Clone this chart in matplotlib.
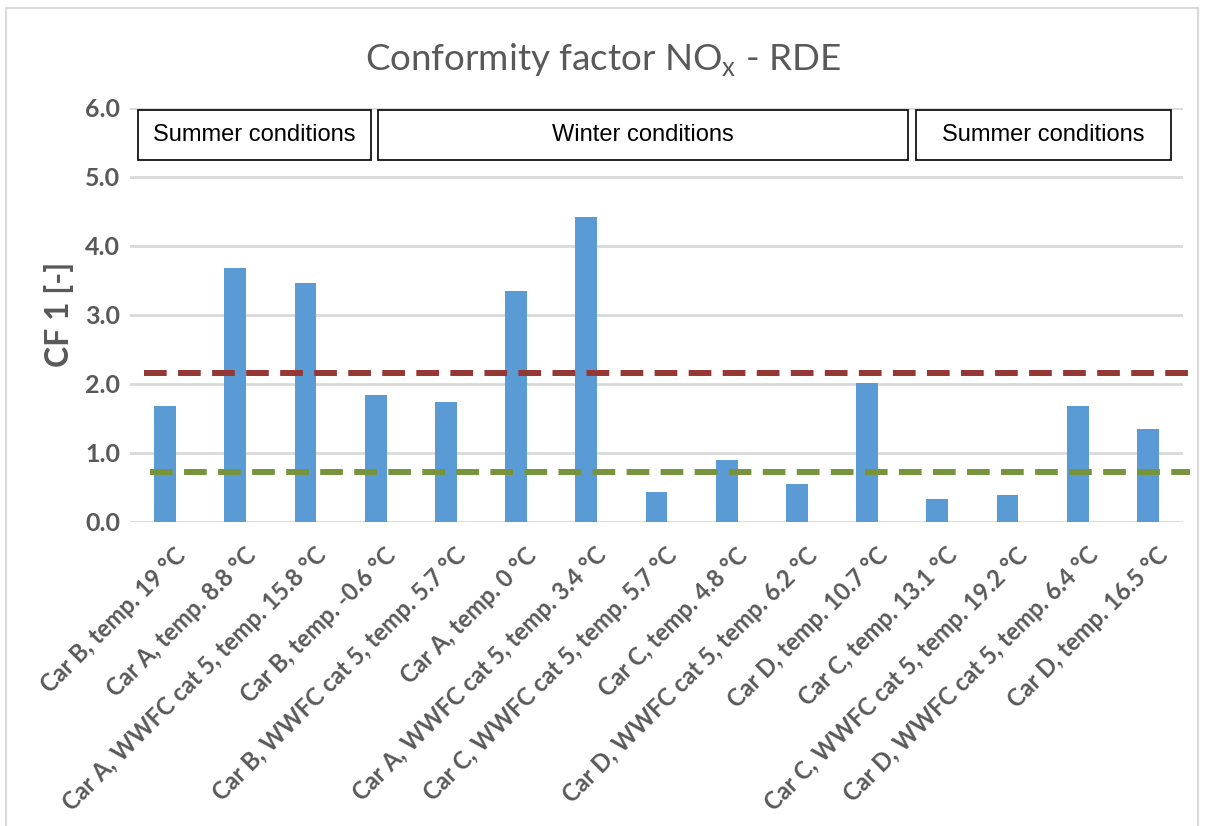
import matplotlib
matplotlib.use("Agg")
import matplotlib.pyplot as plt
from matplotlib.patches import Rectangle

categories = [
    "Car B, temp. 19 °C",
    "Car A, temp. 8.8 °C",
    "Car A, WWFC cat 5, temp. 15.8 °C",
    "Car B, temp. -0.6 °C",
    "Car B, WWFC cat 5, temp. 5.7 °C",
    "Car A, temp. 0 °C",
    "Car A, WWFC cat 5, temp. 3.4 °C",
    "Car C, WWFC cat 5, temp. 5.7 °C",
    "Car C, temp. 4.8 °C",
    "Car D, WWFC cat 5, temp. 6.2 °C",
    "Car D, temp. 10.7 °C",
    "Car C, temp. 13.1 °C",
    "Car C, WWFC cat 5, temp. 19.2 °C",
    "Car D, WWFC cat 5, temp. 6.4 °C",
    "Car D, temp. 16.5 °C",
]
cf_values = [1.67, 3.67, 3.46, 1.84, 1.74, 3.34, 4.42, 0.43, 0.90, 0.54, 2.01, 0.33, 0.39, 1.67, 1.34]
red_limit = 2.15
green_limit = 0.72
yticks = [0.0, 1.0, 2.0, 3.0, 4.0, 5.0, 6.0]
season_labels = ["Summer conditions", "Winter conditions", "Summer conditions"]

GRAY = "#595959"
plt.rcParams["font.family"] = ["Lato", "DejaVu Sans"]
plt.rcParams["mathtext.fontset"] = "custom"
plt.rcParams["mathtext.rm"] = "Lato"

fig = plt.figure(figsize=(12.06, 8.26), dpi=100)
ax = fig.add_axes([130 / 1206, 304.3 / 826, 1053 / 1206, 414 / 826])

x = list(range(len(categories)))
ax.bar(x, cf_values, width=0.31, color="#5B9BD5", zorder=3)

ax.plot([-0.3, 14.6], [red_limit, red_limit], color="#953735", lw=4.3,
        dashes=(3.8, 1.9), zorder=4, clip_on=False, solid_capstyle="butt")
ax.plot([-0.22, 14.6], [green_limit, green_limit], color="#77933C", lw=4.3,
        dashes=(3.8, 1.9), zorder=4, clip_on=False, solid_capstyle="butt")

ax.set_xlim(-0.5, len(categories) - 0.5)
ax.set_ylim(0, 6)
ax.set_yticks(yticks)
ax.set_yticklabels([f"{v:.1f}" for v in yticks], fontsize=18, fontweight="bold", color=GRAY)
ax.grid(axis="y", color="#D9D9D9", lw=2, zorder=0)
ax.set_axisbelow(True)
for s in ax.spines.values():
    s.set_visible(False)
ax.tick_params(axis="both", length=0)
ax.tick_params(axis="y", pad=7)

ax.set_xticks(x)
ax.set_xticklabels([])
for xi, cat in zip(x, categories):
    ax.annotate(cat, xy=(xi, 0), xycoords=("data", "axes fraction"),
                xytext=(12, -21.5), textcoords="offset points",
                rotation=45, ha="right", va="center", rotation_mode="anchor",
                fontsize=17, fontweight="bold", color=GRAY, annotation_clip=False)

ax.set_ylabel("CF 1 [-]", fontsize=23, fontweight="bold", color=GRAY, labelpad=8)

fig.text(0.5, 1 - 60 / 826, r"Conformity factor NO$_{\mathrm{x}}$ - RDE", ha="center", va="center",
         fontsize=26.5, color=GRAY)

# season boxes (data x, y)
boxes = [(-0.386, 2.93), (3.03, 10.58), (10.70, 14.33)]
for (x0, x1), lab in zip(boxes, season_labels):
    r = Rectangle((x0, 5.24), x1 - x0, 0.73, facecolor="white", edgecolor="black",
                  lw=1.2, zorder=5, clip_on=False)
    ax.add_patch(r)
    ax.text((x0 + x1) / 2, 5.605, lab, ha="center", va="center", fontsize=17,
            family="Liberation Sans", color="black", zorder=6)

# outer chart border
fig.patches.append(Rectangle((6 / 1206, -0.05), 1192 / 1206, 1 - 8 / 826 + 0.05,
                             transform=fig.transFigure, fill=False,
                             edgecolor="#D9D9D9", lw=1.5))

fig.savefig("out.png", dpi=100)
